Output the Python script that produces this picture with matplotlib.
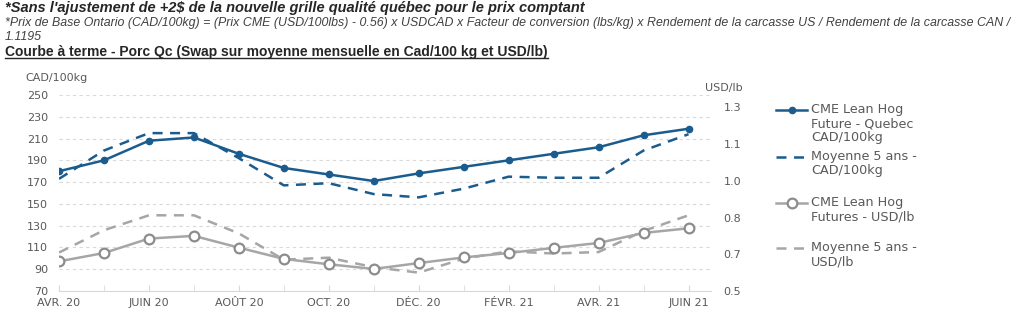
import matplotlib
matplotlib.use('Agg')
import matplotlib.pyplot as plt
from matplotlib.lines import Line2D

# Données (avr. 2020 -> juin 2021)
mois = ['AVR. 20', 'MAI 20', 'JUIN 20', 'JUIL. 20', 'AOÛT 20', 'SEPT. 20', 'OCT. 20', 'NOV. 20',
        'DÉC. 20', 'JANV. 21', 'FÉVR. 21', 'MARS 21', 'AVR. 21', 'MAI 21', 'JUIN 21']
cme_cad = [180, 190, 208, 211, 196, 183, 177, 171, 178, 184, 190, 196, 202, 213, 219]
moy_cad = [173, 199, 215, 215, 192, 167, 169, 159, 156, 164, 175, 174, 174, 199, 214]
cme_usd = [0.621, 0.655, 0.714, 0.725, 0.677, 0.631, 0.609, 0.590, 0.614, 0.637, 0.655, 0.676, 0.696, 0.737, 0.756]
moy_usd = [0.657, 0.748, 0.809, 0.809, 0.735, 0.628, 0.636, 0.597, 0.575, 0.632, 0.662, 0.653, 0.659, 0.745, 0.809]

ticks_gauche = [70, 90, 110, 130, 150, 170, 190, 210, 230, 250]
ticks_droite = [0.5, 0.65, 0.8, 0.95, 1.1, 1.25]
labels_droite = ['0.5', '0.7', '0.8', '1.0', '1.1', '1.3']

bleu = '#1b5c8e'
gris = '#a6a6a6'
texte = '#595959'
police_entete = ['Liberation Sans', 'DejaVu Sans']

fig = plt.figure(figsize=(10.24, 3.22), dpi=100)

# En-tête
fig.text(0.005, 1 - 8 / 322, "*Sans l'ajustement de +2$ de la nouvelle grille qualité québec pour le prix comptant",
         fontsize=10.5, fontweight='bold', style='italic', family=police_entete, color='#262626', va='center')
fig.text(0.005, 1 - 23 / 322, "*Prix de Base Ontario (CAD/100kg) = (Prix CME (USD/100lbs) - 0.56) x USDCAD x Facteur de conversion (lbs/kg) x Rendement de la carcasse US / Rendement de la carcasse CAN /",
         fontsize=8.9, style='italic', family=police_entete, color='#404040', va='center')
fig.text(0.005, 1 - 37 / 322, "1.1195",
         fontsize=8.9, style='italic', family=police_entete, color='#404040', va='center')
titre = fig.text(0.005, 1 - 52 / 322, "Courbe à terme - Porc Qc (Swap sur moyenne mensuelle en Cad/100 kg et USD/lb)",
                 fontsize=10, fontweight='bold', family=police_entete, color='#262626', va='center')

ax = fig.add_axes([59 / 1024, 1 - 291 / 322, (711 - 59) / 1024, (291 - 95) / 322])
ax2 = ax.twinx()

x = list(range(len(mois)))
ax.plot(x, cme_cad, color=bleu, lw=1.8, marker='o', ms=4.5, zorder=4)
ax.plot(x, moy_cad, color=bleu, lw=1.8, ls=(0, (4, 3)), zorder=3)
ax2.plot(x, cme_usd, color=gris, lw=1.8, marker='o', ms=7, mfc='white', mec='#8c8c8c', mew=1.6, zorder=4)
ax2.plot(x, moy_usd, color=gris, lw=1.8, ls=(0, (4, 3)), zorder=3)

ax.set_xlim(0, 14.5)
ax.set_ylim(70, 250)
ax2.set_ylim(0.5, 1.3)

ax.set_yticks(ticks_gauche)
ax2.set_yticks(ticks_droite)
ax2.set_yticklabels(labels_droite)
ax.set_xticks(x[::2])
ax.set_xticklabels(mois[::2])
ax.set_xticks(x, minor=True)

for s in ['top', 'right', 'left']:
    ax.spines[s].set_visible(False)
    ax2.spines[s].set_visible(False)
ax2.spines['bottom'].set_visible(False)
ax.spines['bottom'].set_color('#d9d9d9')

ax.grid(axis='y', color='#d9d9d9', ls=(0, (3, 3)), lw=0.8)
ax.tick_params(axis='y', length=0, labelsize=8, labelcolor=texte, pad=8)
ax2.tick_params(axis='y', length=0, labelsize=8, labelcolor=texte, pad=9)
ax.tick_params(axis='x', which='both', direction='in', length=4, color='#d9d9d9',
               labelsize=8, labelcolor=texte, pad=5)

fig.text(25 / 1024, 1 - 78 / 322, 'CAD/100kg', fontsize=8, color=texte, va='center')
fig.text(705 / 1024, 1 - 88 / 322, 'USD/lb', fontsize=8, color=texte, va='center')

# Légende dessinée à la main (symbole aligné sur la première ligne)
styles = [
    dict(color=bleu, lw=1.8, marker='o', ms=4.5, markevery=[1]),
    dict(color=bleu, lw=1.8, ls=(0, (4, 3))),
    dict(color=gris, lw=1.8, marker='o', ms=7, mfc='white', mec='#8c8c8c', mew=1.6, markevery=[1]),
    dict(color=gris, lw=1.8, ls=(0, (4, 3))),
]
labels = ['CME Lean Hog\nFuture - Quebec\nCAD/100kg', 'Moyenne 5 ans -\nCAD/100kg',
          'CME Lean Hog\nFutures - USD/lb', 'Moyenne 5 ans -\nUSD/lb']
y_leg = [110, 157, 203, 248]
for st, lab, yp in zip(styles, labels, y_leg):
    yf = 1 - yp / 322
    fig.add_artist(Line2D([776 / 1024, 791.5 / 1024, 807 / 1024], [yf, yf, yf],
                          transform=fig.transFigure, **st))
    fig.text(811 / 1024, yf + 7 / 322, lab, fontsize=9.2, color=texte, va='top', linespacing=1.12)

# Soulignement du titre
fig.canvas.draw()
bb = titre.get_window_extent().transformed(fig.transFigure.inverted())
fig.add_artist(Line2D([bb.x0, bb.x1], [bb.y0 + 0.002, bb.y0 + 0.002], color='#262626', lw=1,
                      transform=fig.transFigure))

fig.savefig('out.png', dpi=100)
